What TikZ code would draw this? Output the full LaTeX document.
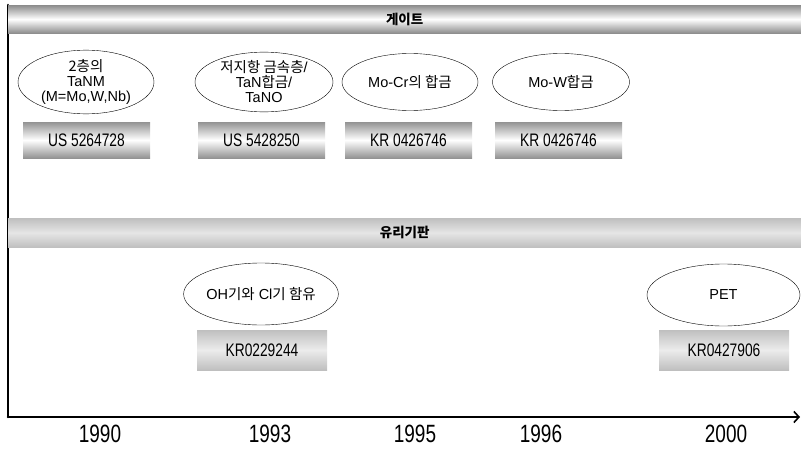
\documentclass[tikz,border=0pt]{standalone}
\usepackage{fontspec}
\setmainfont{Liberation Sans}
\newfontfamily\kr{Noto Sans CJK KR}
\usetikzlibrary{arrows.meta, shapes.geometric}
\newcommand{\tallt}[1]{\scalebox{0.95}[1.25]{#1}}

\begin{document}
\begin{tikzpicture}[x=1pt, y=-1pt, >=Latex, line cap=round, line join=round,
  oval/.style={draw, ellipse, thin, inner sep=0pt, minimum width=137, minimum height=57,
    align=center, font=\fontsize{14.5}{15}\selectfont},
  bigoval/.style={oval, minimum width=153, minimum height=62},
  gatebox/.style={minimum width=127, minimum height=36, inner sep=0pt,
    top color=gray!85, bottom color=gray!85, middle color=white,
    font=\fontsize{14.5}{15}\selectfont},
  glassbox/.style={minimum width=130, minimum height=40, inner sep=0pt,
    top color=gray!50, bottom color=gray!50, middle color=gray!15,
    font=\fontsize{14.5}{15}\selectfont},
  band/.style={anchor=north west, minimum width=793, inner sep=0pt,
    font=\kr\bfseries\fontsize{13.5}{14}\selectfont},
  year/.style={font=\fontsize{20}{22}\selectfont}]

  \useasboundingbox (0,0) rectangle (801,455);

  %--------------------------
  % Axes
  %--------------------------
  \coordinate (ytop) at (8,5);
  \coordinate (origin) at (8,417);
  \coordinate (xend) at (800,417);
  \draw[line width=2.6pt] (ytop) -- (origin);
  \draw[line width=2.6pt, -{Straight Barb[length=5pt, width=11pt, line width=1.6pt]}] (origin) -- (xend);

  %--------------------------
  % Gate
  %--------------------------
  \node[band, minimum height=28, top color=gray!90, bottom color=gray!90, middle color=white]
    (gate) at (8,5) {게이트};

  \node[oval, minimum width=136] (e1) at (86,82) {{\kr 2층의}\\TaNM\\(M=Mo,W,Nb)};
  \node[oval, minimum width=138] (e2) at (264,82) {{\kr 저지항 금속층}/\\TaN{\kr 합금}/\\TaNO};
  \node[oval, minimum width=136] (e3) at (410,82) {Mo-Cr{\kr 의 합금}};
  \node[oval] (e4) at (561,82) {Mo-W{\kr 합금}};

  \node[gatebox] (b1) at (86.5,140) {\tallt{US 5264728}};
  \node[gatebox] (b2) at (261.5,140) {\tallt{US 5428250}};
  \node[gatebox] (b3) at (408.5,140) {\tallt{KR 0426746}};
  \node[gatebox] (b4) at (558.5,140) {\tallt{KR 0426746}};

  %--------------------------
  % Glass substrate
  %--------------------------
  \node[band, minimum height=29, top color=gray!50, bottom color=gray!50, middle color=gray!20]
    (glass) at (8,218) {유리기판};

  \node[bigoval] (e5) at (261,294) {OH{\kr 기와} Cl{\kr 기 함유}};
  \node[bigoval] (e6) at (723.5,295) {PET};

  \node[glassbox] (b5) at (262,350) {\tallt{KR0229244}};
  \node[glassbox] (b6) at (724,350) {\tallt{KR0427906}};

  %--------------------------
  % Years
  %--------------------------
  \node[year] (y1990) at (100,434) {\tallt{1990}};
  \node[year] (y1993) at (270,434) {\tallt{1993}};
  \node[year] (y1995) at (415,434) {\tallt{1995}};
  \node[year] (y1996) at (541,434) {\tallt{1996}};
  \node[year] (y2000) at (726,434) {\tallt{2000}};

\end{tikzpicture}
\end{document}
